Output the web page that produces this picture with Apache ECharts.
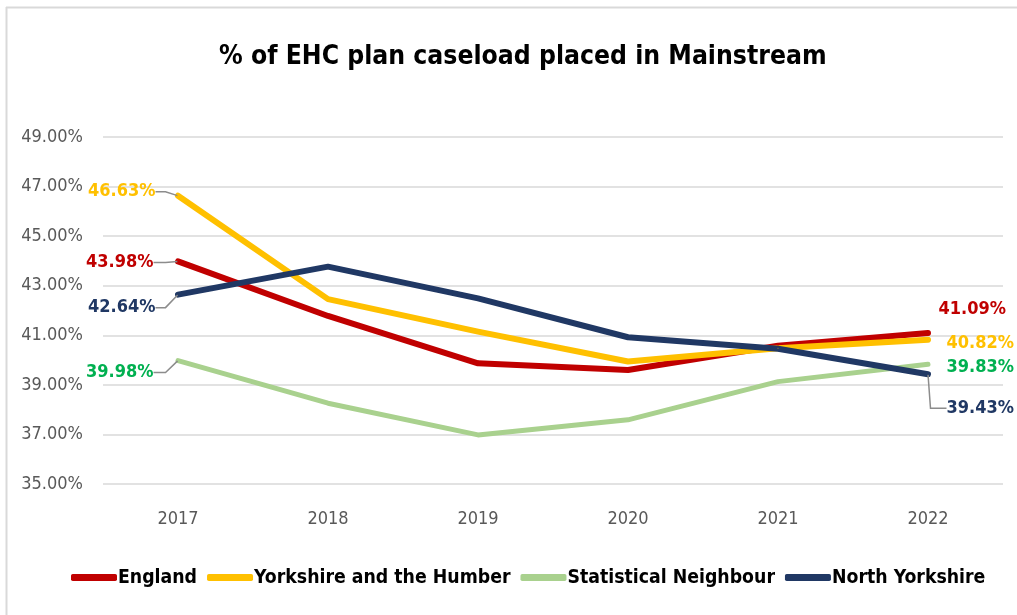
<!DOCTYPE html>
<html>
<head>
<meta charset="utf-8">
<script src="https://cdn.jsdelivr.net/npm/echarts@6/dist/echarts.min.js"></script>
<style>
  html, body { margin: 0; padding: 0; background: #fff; }
  #chart { width: 1017px; height: 615px; }
</style>
</head>
<body>
<div id="chart"></div>
<script>
// Share of EHC plan caseload placed in mainstream settings, by year
const years = ['2017', '2018', '2019', '2020', '2021', '2022'];
const england = [43.98, 41.78, 39.87, 39.60, 40.58, 41.09];
const yorkshireHumber = [46.63, 42.46, 41.15, 39.94, 40.48, 40.82];
const statNeighbour = [39.98, 38.26, 36.98, 37.59, 39.13, 39.83];
const northYorkshire = [42.64, 43.77, 42.49, 40.92, 40.46, 39.43];

const FONT = "'Liberation Sans Narrow', 'DejaVu Sans Condensed', sans-serif";

// End-point label settings: position, distance, dx, dy, leader line length (0 = no leader)
function labelCfg(position, distance, dx, dy, leader) {
  return { position: position, distance: distance, dx: dx, dy: dy, leader: leader };
}

function buildData(values, textColor, firstCfg, lastCfg) {
  return values.map(function (v, i) {
    const cfg = i === 0 ? firstCfg : (i === values.length - 1 ? lastCfg : null);
    if (!cfg) return v;
    return {
      value: v,
      label: {
        show: true,
        position: cfg.position,
        distance: cfg.distance,
        color: textColor,
        fontFamily: FONT,
        fontWeight: 'bold',
        fontSize: 18,
        formatter: function (p) { return p.value.toFixed(2) + '%'; }
      },
      labelLine: {
        show: cfg.leader > 0,
        length2: cfg.leader,
        lineStyle: { color: '#8c8c8c', width: 1.5 }
      }
    };
  });
}

function makeSeries(name, values, color, width, textColor, firstCfg, lastCfg) {
  return {
    name: name,
    type: 'line',
    data: buildData(values, textColor, firstCfg, lastCfg),
    symbol: 'circle',
    symbolSize: 1,
    showSymbol: true,
    itemStyle: { color: color },
    lineStyle: { color: color, width: width, cap: 'round', join: 'round' },
    label: { show: false },
    labelLine: { show: false },
    labelLayout: function (params) {
      const last = values.length - 1;
      const cfg = params.dataIndex === 0 ? firstCfg : (params.dataIndex === last ? lastCfg : null);
      if (!cfg) return {};
      return { dx: cfg.dx, dy: cfg.dy };
    },
    emphasis: { disabled: true },
    animation: false,
    z: 3
  };
}

const chart = echarts.init(document.getElementById('chart'), null, { renderer: 'canvas' });

chart.setOption({
  backgroundColor: '#ffffff',
  animation: false,
  graphic: [
    { type: 'line', shape: { x1: 6, y1: 7.5, x2: 1017, y2: 7.5 }, style: { stroke: '#d9d9d9', lineWidth: 2 }, silent: true },
    { type: 'line', shape: { x1: 6.5, y1: 7, x2: 6.5, y2: 615 }, style: { stroke: '#d9d9d9', lineWidth: 2 }, silent: true }
  ],
  title: {
    text: '% of EHC plan caseload placed in Mainstream',
    left: 214,
    top: 39,
    textStyle: { fontFamily: FONT, fontWeight: 'bold', fontSize: 26.3, color: '#000' }
  },
  legend: {
    bottom: 23,
    left: 66,
    itemWidth: 46,
    itemHeight: 7,
    itemGap: 10,
    icon: 'roundRect',
    textStyle: { fontFamily: FONT, fontWeight: 'bold', fontSize: 19.3, color: '#000', padding: [0, 0, 0, -4] },
    data: ['England', 'Yorkshire and the Humber', 'Statistical Neighbour', 'North Yorkshire']
  },
  grid: { left: 103, right: 14, top: 137, bottom: 131 },
  xAxis: {
    type: 'category',
    data: years,
    boundaryGap: true,
    axisLine: { show: false },
    axisTick: { show: false },
    axisLabel: { color: '#595959', fontFamily: FONT, fontSize: 18, margin: 26 }
  },
  yAxis: {
    type: 'value',
    min: 35,
    max: 49,
    interval: 2,
    axisLine: { show: false },
    axisTick: { show: false },
    splitLine: { lineStyle: { color: '#d9d9d9', width: 1.5 } },
    axisLabel: {
      color: '#595959', fontFamily: FONT, fontSize: 18, margin: 20,
      formatter: function (v) { return v.toFixed(2) + '%'; }
    }
  },
  series: [
    makeSeries('England', england, '#c00000', 6, '#c00000',
      labelCfg('left', 24, 0, 1, 12), labelCfg('right', 10, 0, -24, 0)),
    makeSeries('Yorkshire and the Humber', yorkshireHumber, '#ffc000', 6, '#ffc000',
      labelCfg('left', 22, 0, -4, 10), labelCfg('right', 18, 0, 4, 0)),
    makeSeries('Statistical Neighbour', statNeighbour, '#a9d18e', 5, '#00b050',
      labelCfg('left', 24, 0, 12, 12), labelCfg('right', 18, 0, 3, 0)),
    makeSeries('North Yorkshire', northYorkshire, '#203864', 6, '#203864',
      labelCfg('left', 22, 0, 13, 10), labelCfg('right', 18, 0, 34, 16))
  ]
});
</script>
</body>
</html>
